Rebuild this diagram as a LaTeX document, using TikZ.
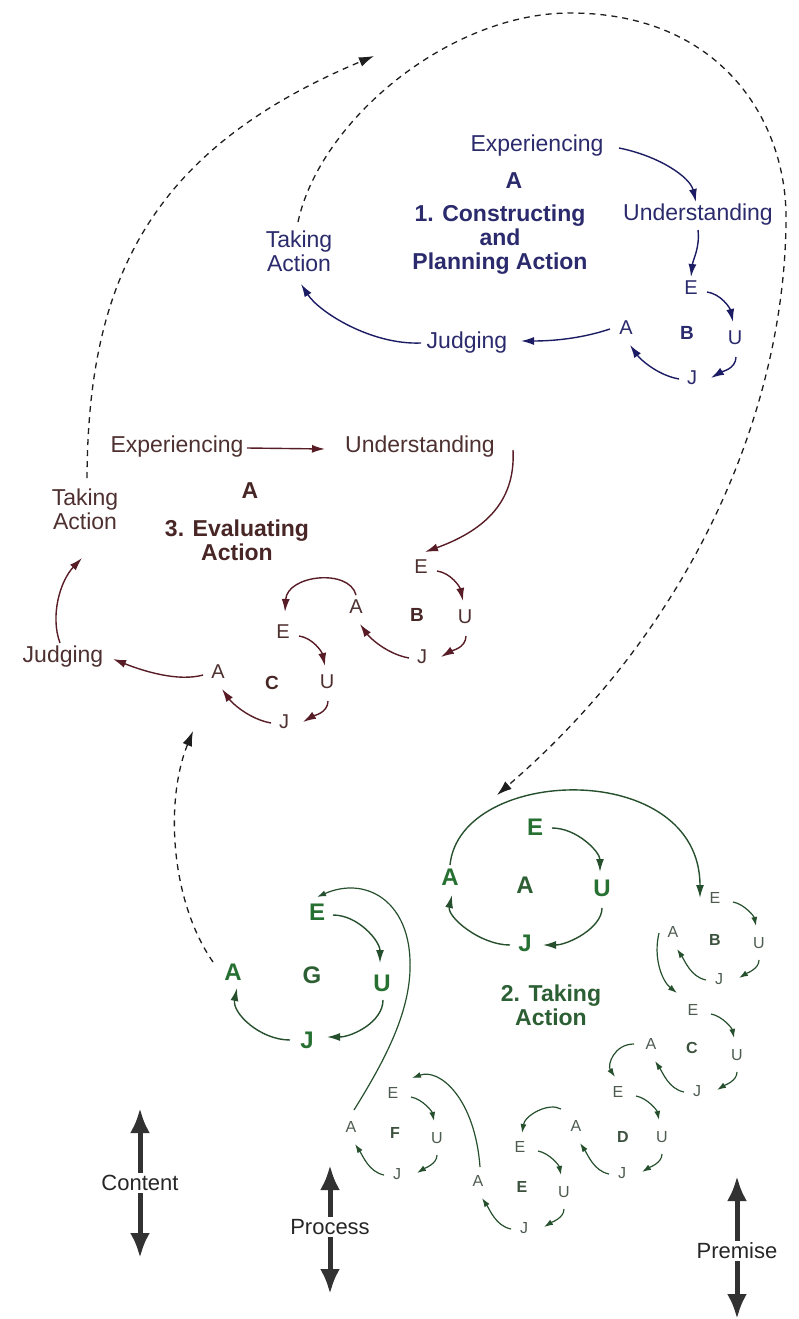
\documentclass[tikz,border=0pt]{standalone}
\usepackage{fontspec}
\setmainfont{Liberation Sans}
\usetikzlibrary{arrows.meta}
\definecolor{bluT}{RGB}{42,42,108}
\definecolor{bluA}{RGB}{28,28,100}
\definecolor{brnT}{RGB}{78,48,48}
\definecolor{brnB}{RGB}{72,38,38}
\definecolor{brnA}{RGB}{88,28,38}
\definecolor{grnB}{RGB}{38,112,50}
\definecolor{grnT}{RGB}{45,95,52}
\definecolor{grnS}{RGB}{78,92,80}
\definecolor{grnL}{RGB}{60,82,62}
\definecolor{grnA}{RGB}{38,80,45}
\definecolor{dashC}{RGB}{30,30,30}
\definecolor{bigC}{RGB}{50,50,50}
\tikzset{
  lbl/.style={font=\fontsize{23}{24}\selectfont, inner sep=1pt, align=center},
  ttl/.style={font=\bfseries\fontsize{23}{24}\selectfont, inner sep=1pt, align=center},
  sml/.style={font=\fontsize{20}{21}\selectfont, inner sep=1pt},
  smb/.style={font=\bfseries\fontsize{19}{20}\selectfont, inner sep=1pt},
  gsm/.style={font=\fontsize{16}{17}\selectfont, inner sep=1pt, text=grnS},
  gsb/.style={font=\bfseries\fontsize{16}{17}\selectfont, inner sep=1pt, text=grnL},
  gbg/.style={font=\bfseries\fontsize{24}{25}\selectfont, inner sep=1pt, text=grnB},
  conn/.style={line width=1.4pt, -{Latex[length=13pt,width=8pt]}},
  bconn/.style={conn, color=bluA},
  rconn/.style={conn, color=brnA},
  gconn/.style={conn, color=grnA},
  gsconn/.style={line width=1.2pt, color=grnA, -{Latex[length=9pt,width=6pt]}},
  dsh/.style={dashC, line width=1.3pt, dash pattern=on 6pt off 5pt, -{Latex[length=15pt,width=10pt]}},
  bigar/.style={bigC, line width=5pt, -{Latex[length=25pt,width=20pt]}},
  botlbl/.style={font=\fontsize{22}{23}\selectfont, inner sep=2pt, text=black!85}
}
% large E-U-J-A cycle: name, x, y, letter style, arrow style
\newcommand{\cycBig}[5]{%
  \node[#4] (#1E) at (#2,#3) {E};
  \node[#4] (#1U) at (#2+44,#3+50) {U};
  \node[#4] (#1J) at (#2+1,#3+90) {J};
  \node[#4] (#1A) at (#2-65,#3+40) {A};
  \draw[#5] ([shift={(16,4)}]#1E.center) .. controls +(14,2) and +(-3,-14) .. ([shift={(-2,-16)}]#1U.center);
  \draw[#5] ([shift={(1,19)}]#1U.center) .. controls +(0,12) and +(10,-6) .. ([shift={(19,0)}]#1J.center);
  \draw[#5] ([shift={(-13,1)}]#1J.center) .. controls +(-22,-4) and +(10,14) .. ([shift={(4,17)}]#1A.center);
}
% small green cycle: name, x, y
\newcommand{\cycSm}[3]{%
  \node[gsm] (#1E) at (#2,#3) {E};
  \node[gsm] (#1U) at (#2+44,#3+45) {U};
  \node[gsm] (#1J) at (#2+4,#3+81) {J};
  \node[gsm] (#1A) at (#2-42,#3+34) {A};
  \draw[gsconn] ([shift={(18,4)}]#1E.center) .. controls +(11,2) and +(-2,-10) .. ([shift={(-3,-17)}]#1U.center);
  \draw[gsconn] ([shift={(0,17)}]#1U.center) .. controls +(0,9) and +(8,-5) .. ([shift={(20,-1)}]#1J.center);
  \draw[gsconn] ([shift={(-13,1)}]#1J.center) .. controls +(-15,-3) and +(8,12) .. ([shift={(4,17)}]#1A.center);
}
\begin{document}
\begin{tikzpicture}[x=1pt,y=-1pt]
\useasboundingbox (0,0) rectangle (798,1319);

% ---------- 1. Constructing and Planning Action (blue)
\node[lbl,text=bluT] (ex1) at (537,146) {Experiencing};
\node[ttl,text=bluT] (bA1) at (514,181) {A};
\node[ttl,text=bluT] (t1) at (500,240) {1. Constructing\\and\\Planning Action};
\node[lbl,text=bluT] (un1) at (698,215) {Understanding};
\node[lbl,text=bluT] (ta1) at (299,251) {Taking\\Action};
\node[lbl,text=bluT] (jd1) at (467,343) {Judging};
\cycBig{bb}{691}{288}{sml,text=bluT}{bconn}
\node[smb,text=bluT] (bbL) at (687,333) {B};
\draw[bconn] ([shift={(82,2)}]ex1.center) .. controls +(40,8) and +(-6,-25) .. ([shift={(-2,-13)}]un1.center);
\draw[bconn] ([shift={(0,15)}]un1.center) .. controls +(2,18) and +(2,-18) .. ([shift={(0,-11)}]bbE.center);
\draw[bconn] ([shift={(-16,1)}]bbA.center) .. controls +(-30,10) and +(30,0) .. ([shift={(54,-2)}]jd1.center);
\draw[bconn] ([shift={(-46,0)}]jd1.center) .. controls +(-50,2) and +(18,28) .. ([shift={(2,33)}]ta1.center);

% ---------- 3. Evaluating Action (brown)
\node[lbl,text=brnT] (ex3) at (177,447) {Experiencing};
\node[lbl,text=brnT] (un3) at (420,447) {Understanding};
\node[ttl,text=brnB] (bA3) at (250,491) {A};
\node[ttl,text=brnB] (t3) at (237,540) {3. Evaluating\\Action};
\node[lbl,text=brnT] (ta3) at (85,509) {Taking\\Action};
\node[lbl,text=brnT] (jd3) at (63,657) {Judging};
\cycBig{rb}{421}{567}{sml,text=brnT}{rconn}
\cycBig{rc}{283}{632}{sml,text=brnT}{rconn}
\node[smb,text=brnB] (rbL) at (417,615) {B};
\node[smb,text=brnB] (rcL) at (272,683) {C};
\draw[rconn] ([shift={(70,1)}]ex3.center) -- ([shift={(-95,2)}]un3.center);
\draw[rconn] ([shift={(93,3)}]un3.center) .. controls +(3,55) and +(55,-20) .. ([shift={(4,-15)}]rbE.center);
\draw[rconn] ([shift={(0,-12)}]rbA.center) .. controls +(-7,-27) and +(2,-37) .. ([shift={(2,-20)}]rcE.center);
\draw[rconn] ([shift={(-15,3)}]rcA.center) .. controls +(-25,7) and +(30,12) .. ([shift={(50,2)}]jd3.center);
\draw[rconn] ([shift={(-3,-14)}]jd3.center) .. controls +(-10,-27) and +(-22,23) .. ([shift={(-3,49)}]ta3.center);

% ---------- 2. Taking Action (green)
\node[gbg] (eA2) at (535,827) {E};
\node[gbg] (uA2) at (602,888) {U};
\node[gbg] (jA2) at (525,943) {J};
\node[gbg] (aA2) at (450,877) {A};
\node[gbg,text=grnT] (lA2) at (525,885) {A};
\node[ttl,text=grnT] (t2) at (551,1005) {2. Taking\\Action};
\draw[gconn] ([shift={(17,1)}]eA2.center) .. controls +(25,0) and +(0,-20) .. ([shift={(-2,-16)}]uA2.center);
\draw[gconn] ([shift={(0,20)}]uA2.center) .. controls +(0,20) and +(25,0) .. ([shift={(18,2)}]jA2.center);
\draw[gconn] ([shift={(-15,2)}]jA2.center) .. controls +(-30,0) and +(-5,22) .. ([shift={(2,18)}]aA2.center);

\cycSm{gb}{715}{898}
\cycSm{gc}{693}{1010}
\cycSm{gd}{618}{1092}
\cycSm{ge}{520}{1147}
\cycSm{gf}{393}{1093}
\node[gsb] (gbL) at (715,940) {B};
\node[gsb] (gcL) at (692,1048) {C};
\node[gsb] (gdL) at (623,1137) {D};
\node[gsb] (geL) at (522,1187) {E};
\node[gsb] (gfL) at (395,1133) {F};

\draw[gconn] ([shift={(0,-12)}]aA2.center) .. controls +(10,-100) and +(0,-140) .. ([shift={(-15,0)}]gbE.center);
\draw[gsconn] ([shift={(-14,1)}]gbA.center) .. controls +(-6,25) and +(-15,-12) .. ([shift={(-16,-17)}]gcE.center);
\draw[gsconn] ([shift={(-17,0)}]gcA.center) .. controls +(-20,0) and +(-8,-12) .. ([shift={(-3,-15)}]gdE.center);
\draw[gsconn] ([shift={(-15,-17)}]gdA.center) .. controls +(-12,-7) and +(3,-18) .. ([shift={(2,-14)}]geE.center);
\draw[gsconn] ([shift={(2,-14)}]geA.center) .. controls +(-5,-68) and +(28,-10) .. ([shift={(19,-15)}]gfE.center);

% G cycle
\node[gbg] (eG2) at (317,912) {E};
\node[gbg] (uG2) at (382,983) {U};
\node[gbg] (jG2) at (307,1040) {J};
\node[gbg] (aG2) at (233,972) {A};
\node[gbg,text=grnT] (lG2) at (312,975) {G};
\draw[gconn] ([shift={(16,3)}]eG2.center) .. controls +(25,0) and +(0,-22) .. ([shift={(-2,-20)}]uG2.center);
\draw[gconn] ([shift={(1,17)}]uG2.center) .. controls +(0,22) and +(25,0) .. ([shift={(20,-3)}]jG2.center);
\draw[gconn] ([shift={(-17,0)}]jG2.center) .. controls +(-30,0) and +(-5,25) .. ([shift={(4,16)}]aG2.center);
\draw[gsconn] ([shift={(3,-17)}]gfA.center) .. controls (385,1060) and (412,1010) .. (410,960)
   .. controls (408,900) and (365,876) .. ([shift={(0,-15)}]eG2.center);

% ---------- dashed links
\coordinate (d1end) at (374,56);
\coordinate (d2end) at (497,795);
\coordinate (d3end) at (193,731);
\draw[dsh] ([shift={(2,-31)}]ta3.center) .. controls (88,280) and (150,150) .. (d1end);
\draw[dsh] ([shift={(-1,-29)}]ta1.center) .. controls (320,120) and (450,13) .. (570,13)
   .. controls (720,13) and (786,120) .. (786,217)
   .. controls (786,400) and (700,620) .. (d2end);
\draw[dsh] ([shift={(-20,-10)}]aG2.center) .. controls (170,900) and (165,800) .. (d3end);

% ---------- bottom axes
\node[botlbl] (cont) at (140,1183) {Content};
\node[botlbl] (proc) at (330,1227) {Process};
\node[botlbl] (prem) at (737,1251) {Premise};
\coordinate (contUp) at (140,1108);
\coordinate (contDn) at (140,1258);
\coordinate (procUp) at (330,1165);
\coordinate (procDn) at (330,1294);
\coordinate (premUp) at (737,1176);
\coordinate (premDn) at (737,1319);
\draw[bigar] (cont.north) -- (contUp);
\draw[bigar] (cont.south) -- (contDn);
\draw[bigar] (proc.north) -- (procUp);
\draw[bigar] (proc.south) -- (procDn);
\draw[bigar] (prem.north) -- (premUp);
\draw[bigar] (prem.south) -- (premDn);
\end{tikzpicture}
\end{document}
